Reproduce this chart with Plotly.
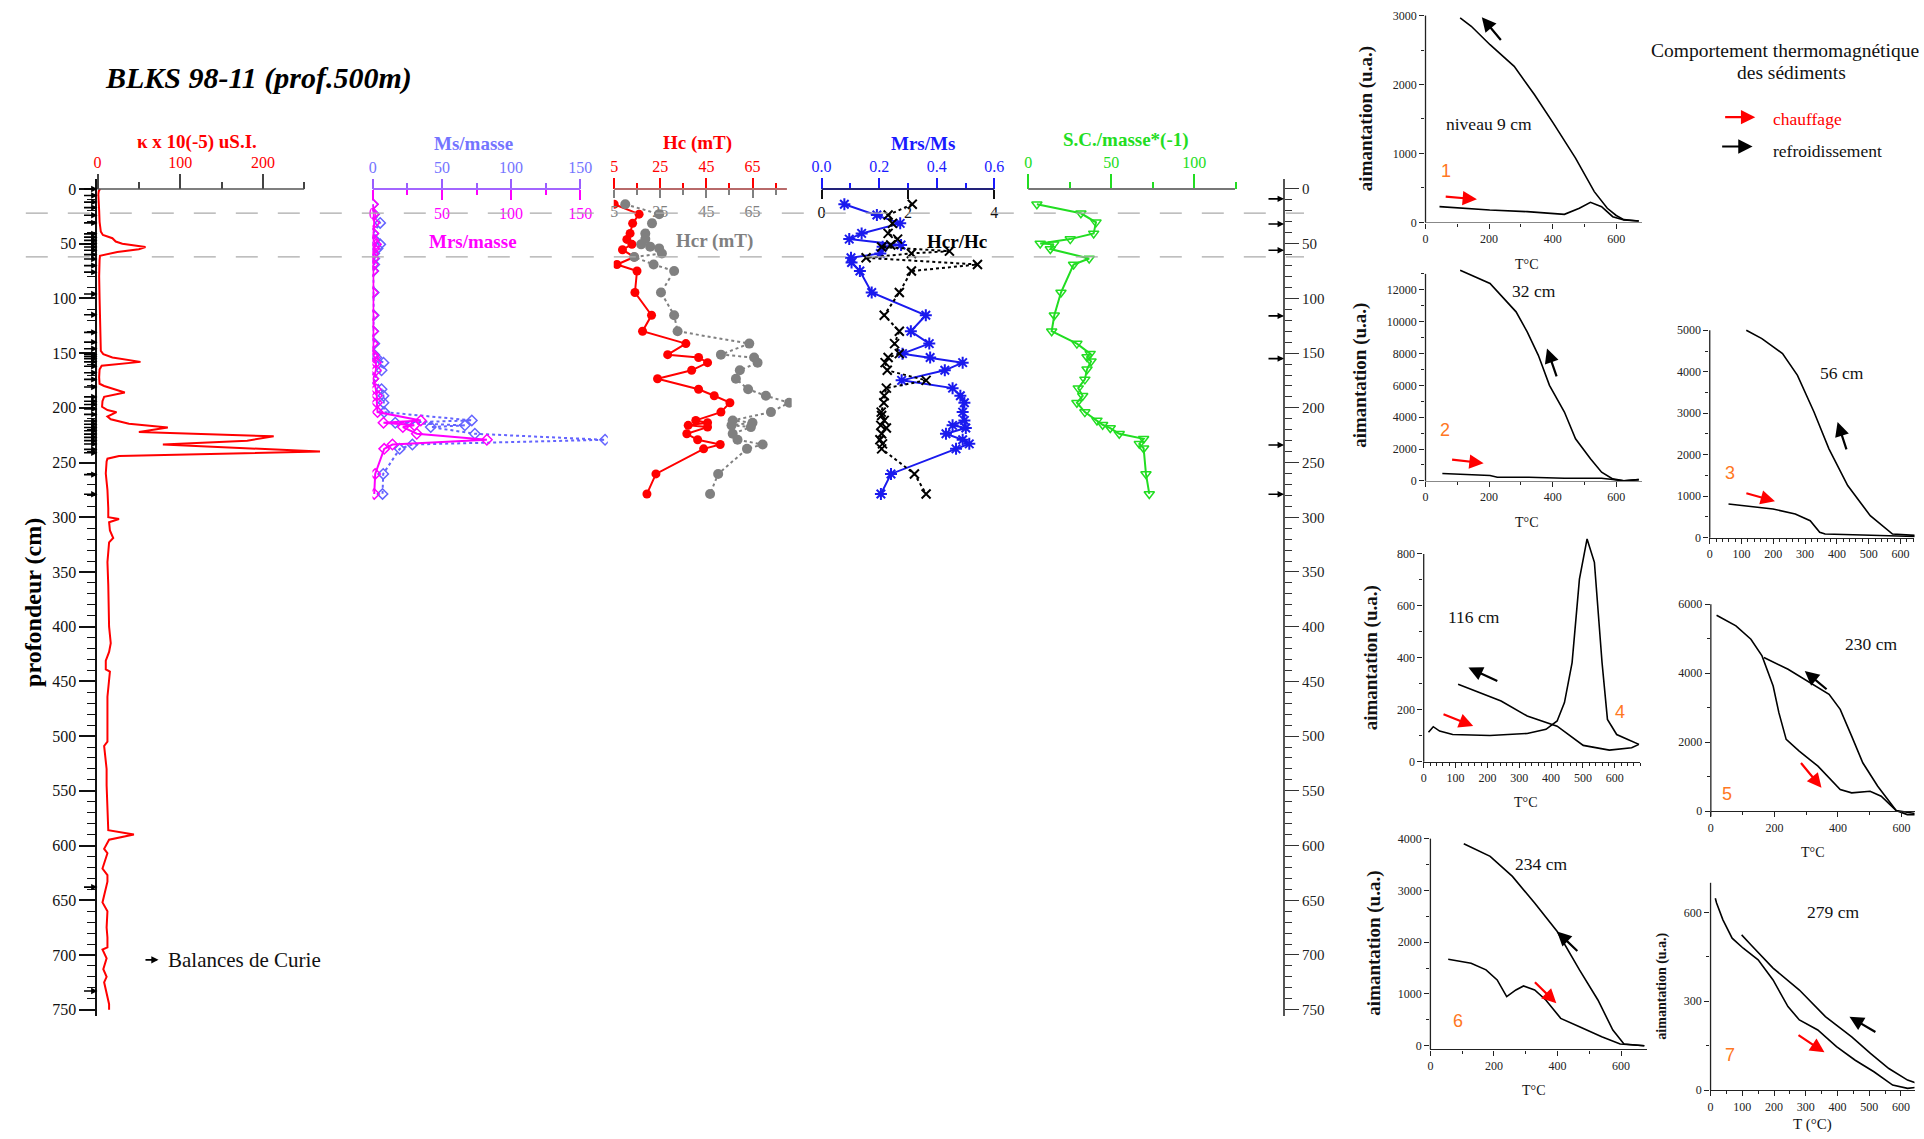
import plotly.graph_objects as go

W, H = 1924, 1139
# calibration between requested page pixels and the captured picture
SX, BX, SY, BY = 0.9905, 8.2, 0.9883, 6.1
XMAX_REF = W * SX + BX - 0.5   # right-most reachable picture column


def fx(x):
    return min(1.0, max(0.0, ((x - BX) / SX) / W))


def fy(y):
    return min(1.0, max(0.0, 1 - ((y - BY) / SY) / H))


SERIF = "Liberation Serif"
SANS = "Liberation Sans"

# ---------------- depth-profile data ----------------
KAPPA_DEPTH = [0, 2, 5, 10, 20, 30, 39, 42, 45, 48, 50, 53, 55, 57.5, 60, 61, 65, 80, 100, 120, 140, 148,
               151, 154, 158, 161.5, 165, 172, 178, 180, 186, 190, 194, 199, 202, 204, 208, 210.5, 214.6,
               218, 222, 226, 230, 233.4, 240, 244, 246.5, 249, 260, 275, 292, 300, 301.6, 304.5, 312, 319,
               323, 341, 362, 382, 400, 415, 423, 431, 439, 441, 464, 485, 505, 509, 530, 545, 578, 586,
               590, 594.7, 603, 607, 621, 627, 633, 645, 652, 660, 675, 684, 693, 695, 703, 713, 720, 725,
               738, 745, 750]
KAPPA = [3, 1.5, 1, 1.5, 2, 2.5, 4, 6.5, 18, 22, 30, 58, 50, 24, 6, 3, 2.5, 2, 2.5, 3, 3.5, 4,
         7, 18, 52, 5, 2.5, 2, 2.5, 8, 33, 8, 6, 5.5, 12, 23, 12, 16, 38,
         85, 50, 213, 181, 79, 269, 26, 12, 11, 10, 12, 13, 13, 26, 14, 15, 19,
         14, 12, 13, 14, 14, 16, 14, 10, 10, 15, 12, 12, 12, 8, 11, 11, 12, 13,
         44, 14, 8, 12, 6, 12, 12, 8, 6, 12, 11, 12, 12, 6, 11, 7, 11, 8,
         12, 14, 14]

HYST_DEPTH = [14, 23, 31, 40.6, 46.7, 50.6, 54.3, 58.9, 63.5, 69, 75, 94.6, 115.4, 130, 141.3, 151.4, 154,
              158.7, 165.7, 173.4, 183, 189, 195.3, 203.9, 211.5, 213.6, 216, 217.6, 223.7, 229.2, 233.5,
              237.5, 260.4, 278.7]
MS_MASSE = [0, 0.9, 5.3, 0.3, 1.5, 5.3, 3.4, 1, 1, 1, 0.3, 0.6, 0.6, 0.3, 1, 1, 2.5, 7.7, 6.3, 0.3, 6.3,
            7.7, 7.7, 8.2, 71.6, 16.2, 66.6, 41.9, 73.8, 168, 28.6, 19.4, 7.5, 7]
MRS_MASSE = [0, 0.5, 1, 0.3, 0.3, 2.2, 1, 0.3, 0.3, 0, 0, 0, 0, 0, 0, 0.3, 1, 2.2, 2.2, 0.3, 2.2, 2.9,
             2.9, 3.4, 34.7, 7.7, 30, 21.7, 31.8, 82.5, 14.2, 8.2, 1.7, 1]

HC_DEPTH = [14, 23, 31.4, 40.6, 46.1, 50.6, 55.5, 62.2, 69, 75, 94.6, 115.4, 130, 141.3, 151.4, 154,
            158.7, 165.7, 173.4, 183, 189, 195.3, 203.9, 211.5, 213.6, 216, 217.6, 223.7, 229.2, 233.5,
            237.5, 260.4, 278.7]
HC = [5, 15.8, 13, 11.9, 10.5, 12.7, 8.6, 13.7, 6.2, 14.9, 14, 21.2, 17.3, 36.1, 28.2, 41.6, 45.5, 38.6,
      23.8, 41.6, 48.4, 55.2, 51.3, 40.4, 45.5, 37.1, 45.5, 36.5, 41.2, 51, 43.8, 23.1, 19.2]

HCR_DEPTH = [14, 23, 31.4, 40.6, 45.8, 50.6, 52.7, 54.3, 58.9, 62.2, 69, 75, 94.6, 115.4, 130, 141.3,
             151.4, 154, 158.7, 165.7, 173.4, 183, 189, 195.3, 203.9, 211.5, 213.6, 216, 217.6, 223.7,
             229.2, 233.5, 237.5, 260.4, 278.7]
HCR = [9.8, 24.5, 21.4, 18.5, 18.5, 16.7, 20.6, 24.5, 25.7, 13.7, 22.1, 31, 25.3, 31, 32.5, 63.6, 51.3,
       65.7, 67.2, 59.5, 57.8, 63.1, 70.8, 80.9, 73, 56.4, 65, 55.9, 64.3, 56.4, 58.5, 69.4, 62.6, 50.1, 46.6]

MRSMS_DEPTH = [14, 23.8, 31.4, 40.6, 45.8, 51.2, 52.7, 58.9, 62.9, 67.2, 75, 94.6, 115.4, 130, 141.3,
               150.5, 154, 158.7, 165.7, 174.9, 182, 189, 195.3, 203.9, 211.5, 216, 218.5, 223.7, 229.2,
               232.9, 237.5, 260.4, 278.7]
MRS_MS = [0.079, 0.192, 0.273, 0.139, 0.096, 0.276, 0.212, 0.204, 0.102, 0.104, 0.133, 0.174, 0.362,
          0.310, 0.374, 0.281, 0.377, 0.49, 0.428, 0.278, 0.455, 0.482, 0.496, 0.49, 0.496, 0.455, 0.501,
          0.432, 0.49, 0.513, 0.467, 0.241, 0.206]

HCRHC_DEPTH = [14, 23.8, 31.4, 40.6, 45.8, 51.2, 53, 56.8, 58.9, 62.9, 69, 75, 94.6, 115.4, 130, 141.3,
               150.5, 154, 158.7, 165.7, 174.9, 182, 189, 195.3, 203.9, 207, 211.5, 216, 218.5, 223.7,
               229.2, 232.9, 237.5, 260.4, 278.7]
HCR_HC = [2.1, 1.54, 1.64, 1.54, 1.76, 1.6, 1.39, 2.96, 2.08, 1.03, 3.61, 2.08, 1.8, 1.45, 1.8, 1.69, 1.8,
          1.54, 1.47, 1.52, 2.42, 1.5, 1.45, 1.44, 1.38, 1.39, 1.45, 1.37, 1.5, 1.39, 1.35, 1.41, 1.39,
          2.15, 2.42]

SC_DEPTH = [14, 22.2, 30.5, 40.6, 45.8, 49.8, 50.6, 54.9, 63.5, 69, 94.6, 115.4, 130, 141.3, 150.5, 153.5,
            157.5, 164.8, 174, 182, 189, 195.3, 203.9, 211.5, 215.5, 218.5, 223.7, 228.3, 232.9, 236.9,
            260.4, 278.7]
SC_MASSE = [5.2, 31.7, 40.8, 39.4, 25.3, 7.2, 15.3, 13.3, 36.7, 27.3, 19.7, 15.7, 14.1, 29.3, 37.3, 35.4,
            37.8, 35.4, 34.1, 30.1, 32.8, 29.3, 34.1, 41.4, 44.8, 49.4, 54.8, 69.5, 66.9, 69.5, 70.9, 72.9]

CURIE_LEFT = [0, 6, 12, 17, 24, 31, 41, 44, 47, 50, 53, 56, 60, 64, 70, 76, 96, 115, 131, 140, 146, 151,
              153, 155, 158, 162, 168, 174, 181, 190, 194, 197, 201, 206, 212, 215, 218, 221, 224, 227,
              230, 233, 238, 241, 261, 279, 638, 733]
CURIE_RIGHT = [9, 32, 56, 116, 155, 234, 279]
DASHED_DEPTHS = [22, 62]

# ---------------- thermomagnetic curves ----------------
T1_HEAT_T = [44, 202, 320, 437, 484, 519, 554, 589, 624, 671]
T1_HEAT_M = [228, 179, 155, 116, 204, 291, 228, 82, 34, 20]
T1_COOL_T = [671, 624, 600, 572, 531, 472, 402, 343, 279, 203, 144, 109]
T1_COOL_M = [20, 40, 100, 204, 446, 931, 1440, 1851, 2264, 2578, 2845, 2966]

T2_HEAT_T = [53, 203, 226, 325, 437, 554, 589, 624, 671]
T2_HEAT_M = [461, 336, 231, 231, 168, 168, 84, 0, 80]
T2_COOL_T = [671, 624, 589, 554, 519, 472, 437, 390, 355, 320, 285, 203, 109]
T2_COOL_M = [80, 0, 126, 545, 1385, 2643, 4322, 5997, 7886, 9356, 10616, 12398, 13235]

T3_HEAT_T = [59, 129, 199, 269, 316, 346, 363, 480, 597, 667]
T3_HEAT_M = [814, 758, 693, 572, 411, 130, 89, 65, 50, 25]
T3_COOL_T = [667, 657, 575, 505, 434, 375, 328, 276, 229, 164, 115]
T3_COOL_M = [25, 50, 89, 531, 1256, 2142, 3029, 3913, 4437, 4800, 5000]

T4_HEAT_T = [15, 30, 50, 91, 208, 325, 384, 419, 442, 466, 489, 513, 536, 560, 577, 606, 641, 676]
T4_HEAT_M = [114, 135, 118, 105, 101, 109, 125, 157, 228, 382, 703, 858, 768, 382, 163, 105, 86, 67]
T4_COOL_T = [676, 653, 583, 501, 419, 325, 243, 173, 108]
T4_COOL_M = [67, 54, 45, 63, 137, 176, 234, 266, 298]

T5_HEAT_T = [18, 79, 126, 161, 196, 214, 237, 278, 337, 407, 443, 501, 536, 583, 618, 665]
T5_HEAT_M = [5682, 5372, 4985, 4501, 3630, 2857, 2082, 1742, 1307, 630, 534, 581, 435, 20, -96, -96]
T5_COOL_T = [665, 583, 525, 478, 443, 407, 372, 302, 243, 167]
T5_COOL_M = [-96, 20, 726, 1405, 2178, 2953, 3388, 3775, 4114, 4454]

T6_HEAT_T = [56, 128, 175, 210, 240, 269, 293, 328, 363, 410, 469, 539, 597, 673]
T6_HEAT_M = [1672, 1594, 1465, 1271, 948, 1078, 1155, 1078, 884, 529, 368, 174, 33, 0]
T6_COOL_T = [673, 609, 574, 527, 469, 399, 328, 258, 188, 105]
T6_COOL_M = [0, 33, 304, 884, 1465, 2206, 2756, 3271, 3658, 3903]

T7_HEAT_T = [15, 19, 39, 68, 103, 150, 197, 244, 280, 338, 397, 456, 515, 574, 621, 662]
T7_HEAT_M = [648, 632, 575, 513, 479, 440, 372, 282, 237, 203, 147, 101, 62, 17, 6, 11]
T7_COOL_T = [668, 621, 562, 504, 445, 362, 280, 197, 127, 98]
T7_COOL_M = [17, 34, 73, 124, 180, 248, 338, 412, 491, 524]

THERMO_LABELS = ["niveau 9 cm", "32 cm", "56 cm", "116 cm", "230 cm", "234 cm", "279 cm"]

# ---------------- geometry ----------------
Y0, KY = 190.7, 1.092          # depth 0 pixel row, px per cm
DMIN, DMAX = -9, 756

fig = go.Figure()


def dx_axis(rng, x0, k, side, tick0, dtick, mdtick, tcol, lcol, tlen, mlen, fmt=None):
    d = dict(domain=[fx(x0 + rng[0] * k), fx(x0 + rng[1] * k)], range=rng, anchor='free',
             position=fy(Y0), side=side, showline=False, showgrid=False, zeroline=False,
             ticks='outside', tick0=tick0, dtick=dtick, ticklen=tlen, tickwidth=1.5, tickcolor=tcol,
             tickfont=dict(family=SERIF, size=16, color=lcol),
             minor=dict(ticks='outside', tick0=tick0, dtick=mdtick, ticklen=mlen, tickwidth=1.5,
                        tickcolor=tcol, showgrid=False))
    if fmt:
        d['tickformat'] = fmt
    return d


layout_axes = {}
layout_axes['xaxis'] = dx_axis([-0.5, 280], 96.7, 0.827, 'top', 0, 100, 50, '#444', '#ff0000', 15, 7)
layout_axes['xaxis2'] = dx_axis([-0.3, 170], 372, 1.382, 'top', 0, 50, 25, '#9a5cff', '#7474ff', 10, 6)
layout_axes['xaxis3'] = dx_axis([-0.3, 170], 372, 1.382, 'bottom', 0, 50, 25, '#ff00ff', '#ff00ff', 10, 5)
layout_axes['xaxis4'] = dx_axis([4.8, 82], 613.3 - 5 * 2.305, 2.305, 'top', 5, 20, 10, '#ff0000', '#ff0000', 11, 6)
layout_axes['xaxis5'] = dx_axis([4.8, 82], 613.3 - 5 * 2.305, 2.305, 'bottom', 5, 20, 10, '#808080', '#808080', 8, 5)
layout_axes['xaxis6'] = dx_axis([-0.002, 0.602], 820.7, 287.8, 'top', 0, 0.2, 0.1, '#1a1aff', '#1a1aff', 11, 6, '.1f')
layout_axes['xaxis7'] = dx_axis([-0.0133, 4.0133], 820.7, 287.8 * 0.15, 'bottom', 0, 2, 1, '#111', '#111', 9, 0)
layout_axes['xaxis7']['minor'] = dict(ticks='')
layout_axes['xaxis8'] = dx_axis([-0.3, 125.5], 1027.3, 1.66, 'top', 0, 50, 25, '#22dd22', '#22dd22', 15, 7)

layout_axes['yaxis'] = dict(domain=[fy(Y0 + DMAX * KY), fy(Y0 + DMIN * KY)], range=[DMAX, DMIN],
                            anchor='x', side='left', showline=True, linecolor='#111', linewidth=1.5,
                            showgrid=False, zeroline=False, ticks='outside', tick0=0, dtick=50, ticklen=16,
                            tickwidth=1.5, tickcolor='#111',
                            tickfont=dict(family=SERIF, size=16, color='#111'),
                            minor=dict(ticks='outside', tick0=0, dtick=10, ticklen=8, tickwidth=1,
                                       tickcolor='#111', showgrid=False))
layout_axes['yaxis2'] = dict(overlaying='y', anchor='free', position=fx(1283), side='right',
                             range=[DMAX, DMIN], showline=True, linecolor='#555', linewidth=2,
                             showgrid=False, zeroline=False, ticks='outside', tick0=0, dtick=50, ticklen=14,
                             tickwidth=1.2, tickcolor='#333',
                             tickfont=dict(family=SERIF, size=15, color='#222'),
                             minor=dict(ticks='outside', tick0=0, dtick=10, ticklen=7, tickwidth=1,
                                        tickcolor='#333', showgrid=False))

# depth traces
fig.add_trace(go.Scatter(x=KAPPA, y=KAPPA_DEPTH, xaxis='x', yaxis='y', mode='lines',
                         line=dict(color='#ff0000', width=2)))
fig.add_trace(go.Scatter(x=MRS_MASSE, y=HYST_DEPTH, xaxis='x3', yaxis='y', mode='lines+markers',
                         line=dict(color='#ff00ff', width=2),
                         marker=dict(symbol='diamond-open', size=8, color='#ff00ff', line=dict(width=1.5))))
fig.add_trace(go.Scatter(x=MS_MASSE, y=HYST_DEPTH, xaxis='x2', yaxis='y', mode='lines+markers',
                         line=dict(color='#6464ff', width=2, dash='dot'),
                         marker=dict(symbol='diamond-open', size=8, color='#6464ff', line=dict(width=1.5))))
fig.add_trace(go.Scatter(x=HCR, y=HCR_DEPTH, xaxis='x5', yaxis='y', mode='lines+markers',
                         line=dict(color='#808080', width=2, dash='dot'),
                         marker=dict(symbol='circle', size=10, color='#808080')))
fig.add_trace(go.Scatter(x=HC, y=HC_DEPTH, xaxis='x4', yaxis='y', mode='lines+markers',
                         line=dict(color='#ff0000', width=2),
                         marker=dict(symbol='circle', size=9, color='#ff0000')))
fig.add_trace(go.Scatter(x=HCR_HC, y=HCRHC_DEPTH, xaxis='x7', yaxis='y', mode='lines+markers',
                         line=dict(color='#000000', width=2, dash='dot'),
                         marker=dict(symbol='x-thin-open', size=9, color='#000000', line=dict(width=2))))
fig.add_trace(go.Scatter(x=MRS_MS, y=MRSMS_DEPTH, xaxis='x6', yaxis='y', mode='lines+markers',
                         line=dict(color='#1a1aee', width=2),
                         marker=dict(symbol='asterisk-open', size=10, color='#1a1aee', line=dict(width=2))))
fig.add_trace(go.Scatter(x=SC_MASSE, y=SC_DEPTH, xaxis='x8', yaxis='y', mode='lines+markers',
                         line=dict(color='#22dd22', width=2),
                         marker=dict(symbol='triangle-down-open', size=9, color='#22dd22', line=dict(width=1.5))))
fig.add_trace(go.Scatter(x=[50], y=[400], xaxis='x', yaxis='y2', mode='markers',
                         marker=dict(opacity=0), hoverinfo='skip'))

# ---------------- thermomagnetic panels ----------------
# (x0 px of T=0, px per degC, y px of M=0, px per unit, y data range, y axis-line top value,
#  x-axis line px, x dtick, x minor, y dtick, y minor, x line colour)
PANELS = [
    (1424.5, 0.3178, 224.0, 0.06877, [0, 3050], 3000, 224.0, 200, 100, 1000, 500, '#888'),
    (1424.5, 0.3178, 482.0, 0.01589, [0, 13500], 13000, 482.0, 200, 100, 2000, 1000, '#888'),
    (1708.7, 0.3178, 538.7, 0.0414, [0, 5100], 5000, 538.7, 100, 20, 1000, 500, '#222'),
    (1422.7, 0.3184, 762.3, 0.2592, [0, 880], 800, 762.3, 100, 20, 200, 100, '#222'),
    (1709.8, 0.3178, 811.7, 0.03444, [-150, 6100], 6000, 811.7, 200, 100, 2000, 1000, '#222'),
    (1429.4, 0.3178, 1045.7, 0.05167, [-70, 4050], 4000, 1049.3, 200, 100, 1000, 500, '#222'),
    (1709.5, 0.3172, 1090.0, 0.2956, [0, 700], 700, 1090.0, 100, 50, 300, 150, '#222'),
]
CURVES = [
    (T1_HEAT_T, T1_HEAT_M, T1_COOL_T, T1_COOL_M),
    (T2_HEAT_T, T2_HEAT_M, T2_COOL_T, T2_COOL_M),
    (T3_HEAT_T, T3_HEAT_M, T3_COOL_T, T3_COOL_M),
    (T4_HEAT_T, T4_HEAT_M, T4_COOL_T, T4_COOL_M),
    (T5_HEAT_T, T5_HEAT_M, T5_COOL_T, T5_COOL_M),
    (T6_HEAT_T, T6_HEAT_M, T6_COOL_T, T6_COOL_M),
    (T7_HEAT_T, T7_HEAT_M, T7_COOL_T, T7_COOL_M),
]
shapes = []
for i, (p, c) in enumerate(zip(PANELS, CURVES)):
    x0, kx, y0, ky, yr, ytop, xline, xd, xm, ydt, ym, xcol = p
    xn, yn = 9 + i, 3 + i
    xr = [-1, min(680, (XMAX_REF - x0) / kx)]
    layout_axes[f'xaxis{xn}'] = dict(
        domain=[fx(x0 + xr[0] * kx), fx(x0 + xr[1] * kx)], range=xr, anchor='free', position=fy(xline),
        showline=True, linecolor=xcol, linewidth=1.3, showgrid=False, zeroline=False,
        ticks='outside', tick0=0, dtick=xd, ticklen=5, tickwidth=1, tickcolor='#222',
        tickfont=dict(family=SERIF, size=12, color='#222'), tickformat='d',
        minor=dict(ticks='outside', tick0=0, dtick=xm, ticklen=3, tickwidth=1, tickcolor='#222',
                   showgrid=False))
    layout_axes[f'yaxis{yn}'] = dict(
        domain=[fy(y0 - yr[0] * ky), fy(y0 - yr[1] * ky)], range=yr, anchor=f'x{xn}',
        showline=False, showgrid=False, zeroline=False,
        ticks='outside', tick0=0, dtick=ydt, ticklen=5, tickwidth=1, tickcolor='#222',
        tickfont=dict(family=SERIF, size=12, color='#222'), tickformat='d',
        minor=dict(ticks='outside', tick0=0, dtick=ym, ticklen=3, tickwidth=1, tickcolor='#222',
                   showgrid=False))
    # y-axis line limited to the labelled span
    shapes.append(dict(type='line', xref='paper', yref='paper', x0=fx(x0), x1=fx(x0),
                       y0=fy(y0 - yr[0] * ky), y1=fy(y0 - ytop * ky), line=dict(color='#222', width=1.3)))
    ht, hm, ct, cm = c
    fig.add_trace(go.Scatter(x=ht, y=hm, xaxis=f'x{xn}', yaxis=f'y{yn}', mode='lines',
                             line=dict(color='black', width=1.6)))
    fig.add_trace(go.Scatter(x=ct, y=cm, xaxis=f'x{xn}', yaxis=f'y{yn}', mode='lines',
                             line=dict(color='black', width=1.6)))

# ---------------- annotations ----------------
ann = []


def txt(x, y, s, size, color='black', bold=False, italic=False, family=SERIF, angle=0, xanchor='center'):
    if bold:
        s = f"<b>{s}</b>"
    if italic:
        s = f"<i>{s}</i>"
    ann.append(dict(x=fx(x), y=fy(y), xref='paper', yref='paper', text=s, showarrow=False,
                    font=dict(family=family, size=size, color=color), textangle=angle,
                    xanchor=xanchor, yanchor='middle'))


def arr(tail, tip, color, width=2.2, size=1.3, head=2):
    ann.append(dict(x=fx(tip[0]), y=fy(tip[1]), xref='paper', yref='paper',
                    ax=(tail[0] - tip[0]) / SX, ay=(tail[1] - tip[1]) / SY, axref='pixel', ayref='pixel',
                    text='', showarrow=True, arrowhead=head, arrowsize=size, arrowwidth=width,
                    arrowcolor=color, standoff=0))


txt(258, 80, "BLKS 98-11 (prof.500m)", 30, bold=True, italic=True)
txt(196, 144, "κ x 10(-5) uS.I.", 19, '#ff0000', bold=True)
txt(472.3, 145, "Ms/masse", 19, '#7474ff', bold=True)
txt(472, 243, "Mrs/masse", 19, '#ff00ff', bold=True)
txt(696.7, 145, "Hc (mT)", 19, '#ff0000', bold=True)
txt(714, 243, "Hcr (mT)", 19, '#808080', bold=True)
txt(921.7, 145, "Mrs/Ms", 19, '#1a1aff', bold=True)
txt(956, 243, "Hcr/Hc", 19, '#000000', bold=True)
txt(1125, 141.7, "S.C./masse*(-1)", 19, '#22dd22', bold=True)
txt(32, 603, "profondeur (cm)", 24, bold=True, angle=-90)
txt(165, 960, "Balances de Curie", 21, '#111', xanchor='left')
arr((143.3, 960), (157.7, 960), 'black', width=1.6, size=0.9)

for d in CURIE_LEFT:
    ann.append(dict(x=fx(96.7), y=d, xref='paper', yref='y', ax=-15, ay=0, axref='pixel', ayref='pixel',
                    text='', showarrow=True, arrowhead=2, arrowsize=0.8, arrowwidth=1.6,
                    arrowcolor='black', standoff=0))
for d in CURIE_RIGHT:
    ann.append(dict(x=fx(1283), y=d, xref='paper', yref='y', ax=-17, ay=0, axref='pixel', ayref='pixel',
                    text='', showarrow=True, arrowhead=2, arrowsize=0.8, arrowwidth=1.6,
                    arrowcolor='black', standoff=0))

# thermo texts
LABEL_POS = [(1487.9, 126), (1532.6, 292.7), (1840.9, 374), (1473, 617.7), (1869.6, 644.3),
             (1540.4, 864), (1831.6, 912.7)]
NUM_POS = [(1445.4, 173), (1444.3, 431), (1729.2, 474), (1618.6, 712.7), (1725.5, 794), (1457.3, 1021),
           (1729.2, 1055)]
for i, (lab, lp, npos) in enumerate(zip(THERMO_LABELS, LABEL_POS, NUM_POS)):
    txt(lp[0], lp[1], lab, 17.5, '#111')
    txt(npos[0], npos[1], str(i + 1), 18, '#ff7722', family=SANS)

for (x, y) in [(1526.2, 265.7), (1526.2, 524), (1525.1, 803.3), (1812.3, 853.3), (1532.6, 1090)]:
    txt(x, y, "T°C", 14, '#111')
txt(1811.9, 1124, "T (°C)", 15, '#111')

for (x, y) in [(1365, 120), (1359.4, 376.7), (1369.8, 658.3), (1373.5, 943.3)]:
    txt(x, y, "aimantation (u.a.)", 19, '#111', bold=True, angle=-90)
txt(1661, 986.7, "aimantation (u.a.)", 14, '#111', bold=True, angle=-90)

txt(1784, 52.3, "Comportement thermomagnétique", 19.5, '#111')
txt(1790.7, 74, "des sédiments", 19.5, '#111')
txt(1770.2, 120.7, "chauffage", 17.5, '#ff0000', xanchor='left')
txt(1770.2, 152.3, "refroidissement", 17.5, '#111', xanchor='left')
arr((1722.9, 119), (1754.2, 119), '#ff0000')
arr((1719.9, 148.3), (1751.5, 148.3), 'black')

ARROWS = [
    ((1443.5, 198.3), (1475.9, 201), '#ff0000'), ((1500.9, 43.3), (1480.8, 19.3), 'black'),
    ((1449.9, 460.7), (1482.6, 464.3), '#ff0000'), ((1556.0, 379), (1546.0, 350), 'black'),
    ((1744.1, 494), (1773.9, 502.3), '#ff0000'), ((1845.8, 451.7), (1836.5, 423.3), 'black'),
    ((1441.3, 714.3), (1472.2, 726.7), '#ff0000'), ((1497.5, 682.3), (1467.4, 668.3), 'black'),
    ((1798.9, 762.3), (1820.4, 788.3), '#ff0000'), ((1826.8, 691), (1803.7, 671.7), 'black'),
    ((1532.6, 981), (1555.3, 1003.3), '#ff0000'), ((1577.6, 952.3), (1556.0, 931.7), 'black'),
    ((1796.2, 1034.3), (1823.4, 1052.3), '#ff0000'), ((1875.6, 1032.7), (1848.4, 1016.7), 'black'),
]
for tail, tip, col in ARROWS:
    arr(tail, tip, col)

# ---------------- shapes ----------------
for d in DASHED_DEPTHS:
    shapes.append(dict(type='line', xref='paper', yref='y', x0=fx(25), x1=fx(1303), y0=d, y1=d,
                       line=dict(color='#aaaaaa', width=1.2, dash='22px,20px')))
for (xa, xb, col, w) in [(96.7, 303.3, '#555', 1.5), (372, 579.3, '#a366ff', 2), (613.3, 786, '#b86a6a', 2),
                         (820.7, 993.3, '#22227a', 2), (1027.3, 1234, '#777', 2)]:
    shapes.append(dict(type='line', xref='paper', yref='paper', x0=fx(xa), x1=fx(xb), y0=fy(Y0), y1=fy(Y0),
                       line=dict(color=col, width=w)))

fig.update_layout(width=W, height=H, margin=dict(l=0, r=0, t=0, b=0), showlegend=False,
                  plot_bgcolor='rgba(0,0,0,0)', paper_bgcolor='white', hovermode=False,
                  annotations=ann, shapes=shapes, **layout_axes)

fig.write_html("out.html", config={'displayModeBar': False},
               post_script="document.body.style.margin='0';"
                           "document.documentElement.style.overflow='hidden';"
                           "document.body.style.overflow='hidden';")
